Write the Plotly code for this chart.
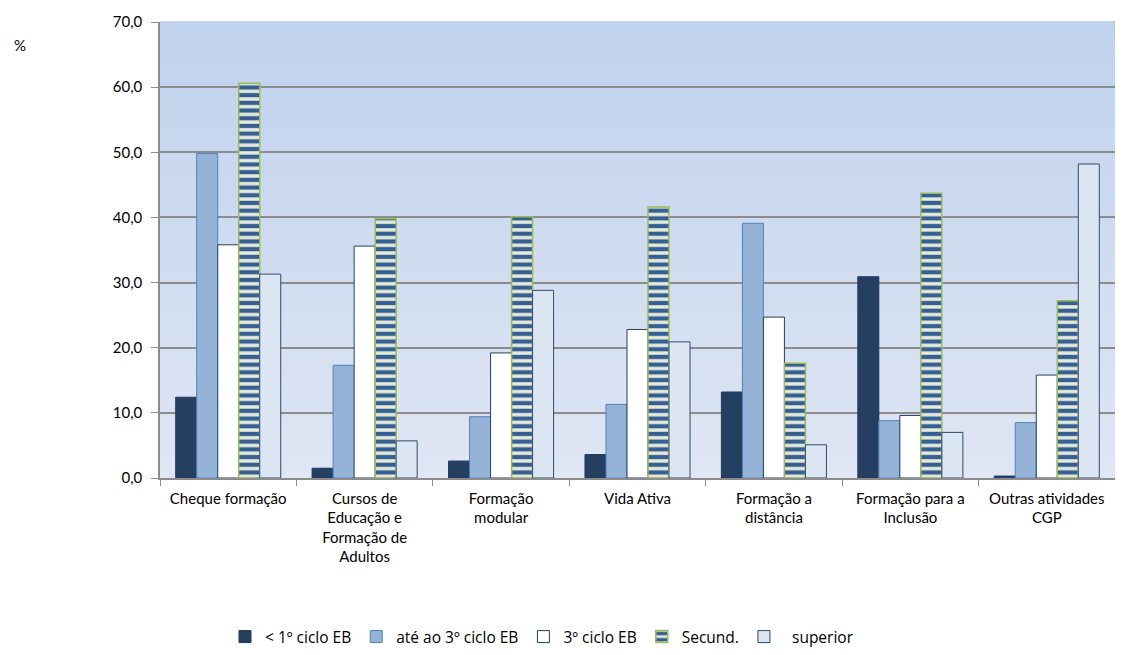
import plotly.graph_objects as go

categories = ["Cheque formação", "Cursos de<br>Educação e<br>Formação de<br>Adultos", "Formação<br>modular",
              "Vida Ativa", "Formação a<br>distância", "Formação para a<br>Inclusão", "Outras atividades<br>CGP"]
series_names = ["< 1º ciclo EB", "até ao 3º ciclo EB", "3º ciclo EB", "Secund.", "  superior"]
v_lt1 = [12.4, 1.5, 2.6, 3.6, 13.2, 30.9, 0.3]
v_ate3 = [49.8, 17.3, 9.4, 11.3, 39.1, 8.8, 8.5]
v_3ciclo = [35.8, 35.6, 19.2, 22.8, 24.7, 9.6, 15.8]
v_secund = [60.6, 39.8, 40.1, 41.6, 17.6, 43.7, 27.2]
v_sup = [31.3, 5.7, 28.8, 20.9, 5.1, 7.0, 48.2]
y_ticks = [0, 10, 20, 30, 40, 50, 60, 70]

fig = go.Figure()
fig.add_bar(x=categories, y=v_lt1, name=series_names[0],
            marker=dict(color="#243f60", line=dict(color="#1f3a5f", width=1)))
fig.add_bar(x=categories, y=v_ate3, name=series_names[1],
            marker=dict(color="#95b3d7", line=dict(color="#4f81bd", width=1)))
fig.add_bar(x=categories, y=v_3ciclo, name=series_names[2],
            marker=dict(color="#ffffff", line=dict(color="#243f60", width=1)))
fig.add_bar(x=categories, y=v_secund, name=series_names[3],
            marker=dict(color="#e6ecda", line=dict(color="#9bbb59", width=1.5),
                        pattern=dict(shape="-", fgcolor="#365f94", bgcolor="#e6ecda",
                                     size=7.7, solidity=0.55, fillmode="replace")))
fig.add_bar(x=categories, y=v_sup, name=series_names[4],
            marker=dict(color="#dce6f2", line=dict(color="#2f4a6b", width=1)))

# vertical gradient background
n = 60
top = (191, 210, 237)
bot = (223, 230, 244)
shapes = []
for i in range(n):
    t = i / (n - 1)
    c = tuple(round(bot[k] + (top[k] - bot[k]) * t) for k in range(3))
    shapes.append(dict(type="rect", xref="paper", yref="paper", x0=0, x1=1,
                       y0=i / n, y1=(i + 1) / n + 0.002, layer="below",
                       line=dict(width=0), fillcolor="rgb(%d,%d,%d)" % c))

fig.update_layout(
    width=1107, height=639,
    margin=dict(l=152, r=0, t=14, b=169, autoexpand=False),
    paper_bgcolor="white", plot_bgcolor="rgba(0,0,0,0)",
    barmode="group", bargap=0.23, bargroupgap=0,
    separators=",.",
    font=dict(family="Lato, Open Sans, sans-serif", size=15, color="#000000"),
    shapes=shapes,
    showlegend=True,
    legend=dict(orientation="h", x=0.40, xanchor="center", y=-0.3487, yanchor="middle",
                font=dict(size=15.5, family="Open Sans, sans-serif"), traceorder="normal",
                itemwidth=30, bgcolor="rgba(0,0,0,0)", borderwidth=0),
    annotations=[dict(text="%", xref="paper", yref="paper", x=-0.1466, y=0.9496,
                      xanchor="center", yanchor="middle",
                      showarrow=False, font=dict(size=15))],
)
fig.update_yaxes(range=[0, 70], tickvals=y_ticks, tickformat=".1f",
                 showgrid=True, gridcolor="#8c8c8c", gridwidth=1.5,
                 showline=True, linecolor="#8c8c8c", linewidth=1.5,
                 ticks="outside", ticklen=7, tickcolor="#8c8c8c", zeroline=False,
                 tickfont=dict(size=15), ticklabelstandoff=6, automargin=False)
fig.update_xaxes(showline=True, linecolor="#8c8c8c", linewidth=1.5,
                 ticks="outside", tickson="boundaries", ticklen=6, tickcolor="#8c8c8c",
                 tickfont=dict(size=15), ticklabelstandoff=6, automargin=False)

fig.write_html("out.html")
